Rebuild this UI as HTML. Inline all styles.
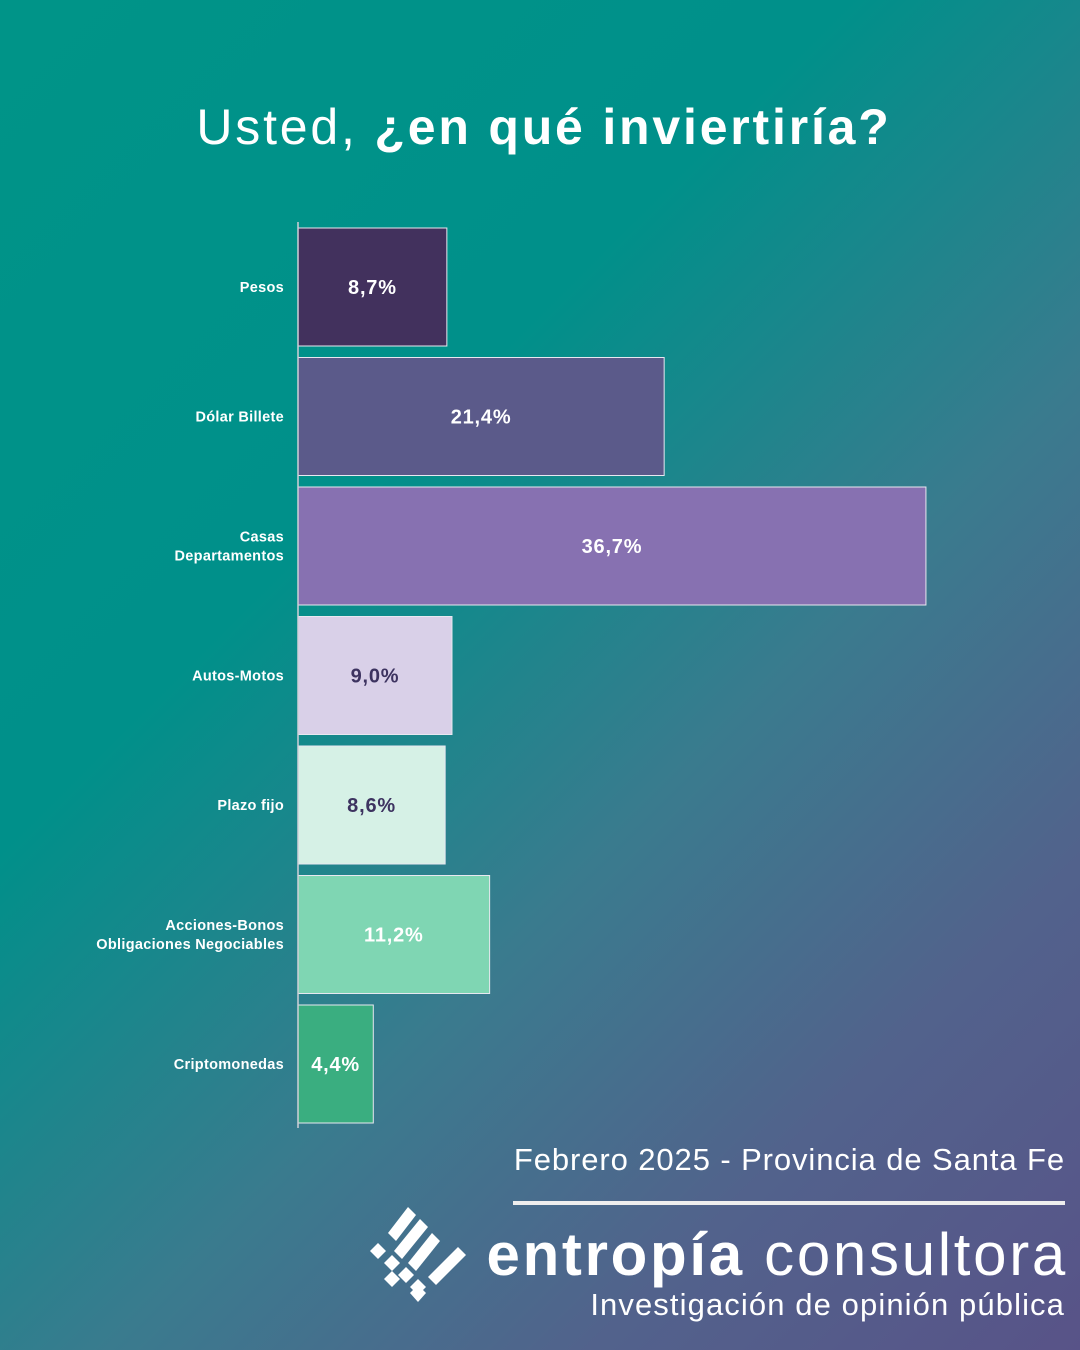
<!DOCTYPE html>
<html><head><meta charset="utf-8"><style>
body{margin:0;width:1080px;height:1350px;overflow:hidden;font-family:"Liberation Sans",sans-serif;}
#bg{position:absolute;left:0;top:0;width:1080px;height:1350px;background:linear-gradient(135deg,#009488 0%,#00908a 35%,#3a7b8e 60%,#52628c 80%,#585388 100%);}
.t{position:absolute;color:#fff;white-space:nowrap;}
</style></head><body>
<div id="bg"></div>
<div class="t" style="left:0;width:1088px;top:98px;text-align:center;font-size:50px;letter-spacing:2.8px;">Usted, <b>¿en qué inviertiría?</b></div>
<svg id="chart" width="1080" height="1350" style="position:absolute;left:0;top:0"></svg>
<div class="t" style="right:15px;top:1142px;font-size:31px;letter-spacing:0.9px;">Febrero 2025 - Provincia de Santa Fe</div>
<div style="position:absolute;left:513px;top:1201px;width:552px;height:4px;background:#eee;"></div>
<svg style="position:absolute;left:368px;top:1205px" width="100" height="100">
<g fill="#fff">
<polygon points="40,2 48,10 28,36 20,28"/><polygon points="52,14 60,22 34,54 26,46"/><polygon points="64,28 72,36 48,66 40,58"/><polygon points="90,42 98,50 68,80 60,72"/>
<polygon points="10,38 18,46 10,54 2,46"/><polygon points="24,50 32,58 24,66 16,58"/><polygon points="38,62 46,70 38,78 30,70"/><polygon points="50,74 58,82 50,90 42,82"/><polygon points="24,66 32,74 24,82 16,74"/><polygon points="50,80 58,88 50,97 42,88"/>
</g></svg>
<div class="t" style="right:12px;top:1220px;font-size:60px;line-height:70px;letter-spacing:2.7px;"><b>entropía</b> consultora</div>
<div class="t" style="right:15px;top:1287px;font-size:31px;letter-spacing:1.1px;">Investigación de opinión pública</div>
<script>
const categories=[["Pesos"],["Dólar Billete"],["Casas","Departamentos"],["Autos-Motos"],["Plazo fijo"],["Acciones-Bonos","Obligaciones Negociables"],["Criptomonedas"]];
const values=[8.7,21.4,36.7,9.0,8.6,11.2,4.4];
const labels=["8,7%","21,4%","36,7%","9,0%","8,6%","11,2%","4,4%"];
const colors=["#42315d","#5b5a8a","#8771b1","#d9d0e8","#d6f1e6","#7fd6b3","#3aae80"];
const textColors=["#fff","#fff","#fff","#3d3360","#3d3360","#fff","#fff"];
const svg=document.getElementById('chart');const NS="http://www.w3.org/2000/svg";
const x0=298,pxPer=17.11,y0=228,step=129.5,bh=118;
const xs=v=>v*pxPer, ys=i=>y0+i*step;
function mk(t,a){const e=document.createElementNS(NS,t);for(const k in a)e.setAttribute(k,a[k]);svg.appendChild(e);return e;}
values.forEach((v,i)=>{
 const r=mk('rect',{x:x0,y:ys(i),width:xs(v),height:bh,fill:colors[i],stroke:'#e8e8f0','stroke-width':1});
 
 
 const t=mk('text',{x:x0+xs(v)/2,y:ys(i)+bh/2+7,'text-anchor':'middle','font-size':20,'font-weight':'bold',fill:textColors[i],'font-family':'Liberation Sans','letter-spacing':0.8});
 t.textContent=labels[i];
 
 
 const lines=categories[i];
 lines.forEach((ln,j)=>{
  const c=mk('text',{x:284,y:ys(i)+bh/2+5+(j-(lines.length-1)/2)*19,'text-anchor':'end','font-size':14.5,'font-weight':'bold',fill:'#fff','font-family':'Liberation Sans','letter-spacing':0.3});
  c.textContent=ln;
  
  
 });
});
const ax=mk('line',{x1:x0,y1:222,x2:x0,y2:1128,stroke:'#d0d0d8','stroke-width':1.5});


</script>
</body></html>
